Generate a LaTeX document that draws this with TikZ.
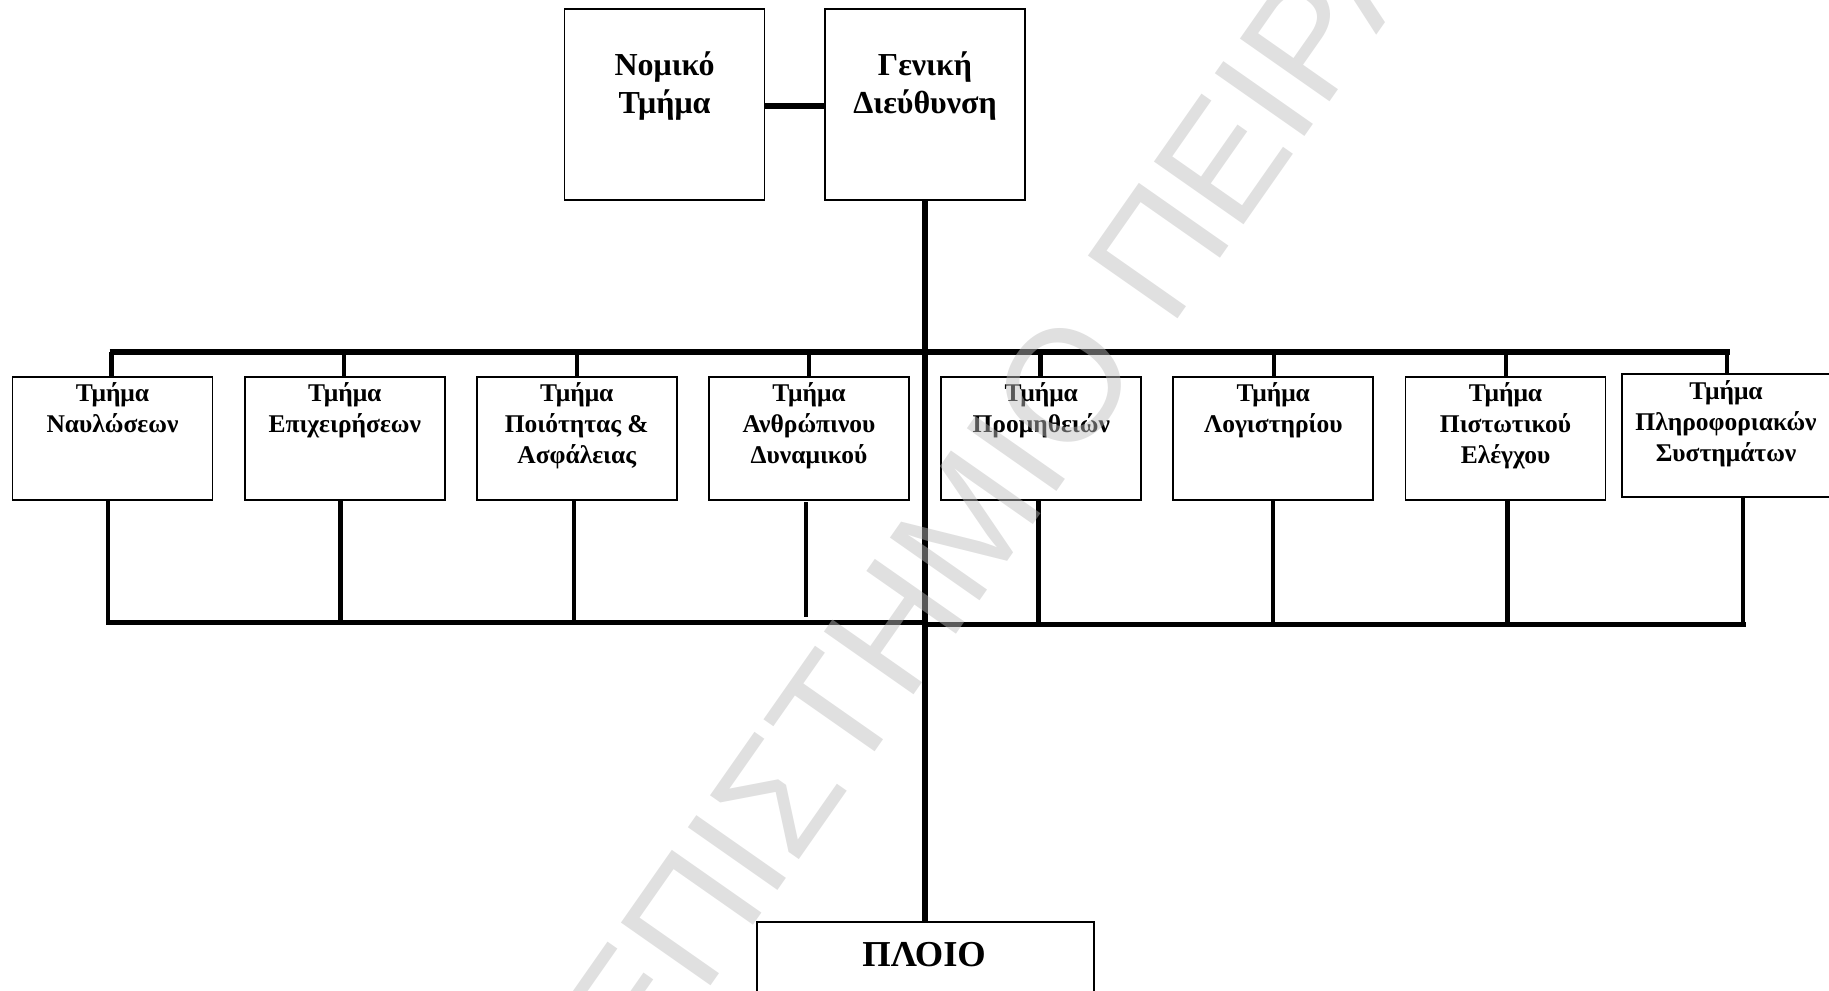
\documentclass[tikz,border=0pt]{standalone}
\usepackage{fontspec}
\setmainfont{Liberation Serif}
\newfontfamily\wmfont{Liberation Sans}
\usetikzlibrary{calc}
% stacked, centred lines whose baseline is the first line's
\newcommand{\boxlines}[1]{\begin{tabular}[t]{@{}c@{}}#1\end{tabular}}
\begin{document}
\begin{tikzpicture}[x=0.5pt,y=-0.5pt,
  box/.style={draw, line width=0.85pt, inner sep=0pt},
  headbox/.style={box, minimum width=100pt, minimum height=95.5pt},
  deptbox/.style={box, minimum width=100pt, minimum height=61.5pt},
  headtxt/.style={inner sep=0pt, font=\bfseries\fontsize{16pt}{19.25pt}\selectfont},
  depttxt/.style={inner sep=0pt, font=\bfseries\fontsize{12.75pt}{15.5pt}\selectfont},
  shiptxt/.style={inner sep=0pt, font=\bfseries\fontsize{18.25pt}{22pt}\selectfont},
  link/.style={line width=2.75pt},
  topbus/.style={line width=3.25pt},
  drop/.style={line width=2.2pt},
  lowbus/.style={line width=2.5pt},
  wm/.style={inner sep=0pt, text=black!26, text opacity=0.47,
    font=\wmfont\fontsize{79.5pt}{90pt}\selectfont},
]
\useasboundingbox (0,0) rectangle (1829,990);
\clip (0,0) rectangle (1829,990);

% management level
\node[headbox] (legal) at (664.5,104.5) {};
\node[headbox] (gm) at (925,104.5) {};
\node[headtxt, anchor=base] (legalt) at ($(legal.north)+(0,67)$) {\boxlines{Νομικό\\Τμήμα}};
\node[headtxt, anchor=base] (gmt) at ($(gm.north)+(0,67)$) {\boxlines{Γενική\\Διεύθυνση}};

% departments
\node[deptbox] (d1) at (112.5,438.5) {};
\node[deptbox] (d2) at (344.75,438.5) {};
\node[deptbox] (d3) at (576.75,438.5) {};
\node[deptbox] (d4) at (809,438.5) {};
\node[deptbox] (d5) at (1041.25,438.5) {};
\node[deptbox] (d6) at (1273.25,438.5) {};
\node[deptbox] (d7) at (1505.5,438.5) {};
\node[deptbox, minimum width=104pt] (d8) at (1726,435.25) {};

\node[depttxt, anchor=base] (d1t) at ($(d1.north)+(0,25)$) {\boxlines{Τμήμα\\Ναυλώσεων}};
\node[depttxt, anchor=base] (d2t) at ($(d2.north)+(0,25)$) {\boxlines{Τμήμα\\Επιχειρήσεων}};
\node[depttxt, anchor=base] (d3t) at ($(d3.north)+(0,25)$) {\boxlines{Τμήμα\\Ποιότητας \&\\Ασφάλειας}};
\node[depttxt, anchor=base] (d4t) at ($(d4.north)+(0,25)$) {\boxlines{Τμήμα\\Ανθρώπινου\\Δυναμικού}};
\node[depttxt, anchor=base] (d5t) at ($(d5.north)+(0,25)$) {\boxlines{Τμήμα\\Προμηθειών}};
\node[depttxt, anchor=base] (d6t) at ($(d6.north)+(0,25)$) {\boxlines{Τμήμα\\Λογιστηρίου}};
\node[depttxt, anchor=base] (d7t) at ($(d7.north)+(0,25)$) {\boxlines{Τμήμα\\Πιστωτικού\\Ελέγχου}};
\node[depttxt, anchor=base] (d8t) at ($(d8.north)+(0,27)$) {\boxlines{Τμήμα\\Πληροφοριακών\\Συστημάτων}};

% ship
\node[box, minimum width=168.35pt, minimum height=59pt] (ship) at (925.6,981) {};
\node[shiptxt, anchor=base] (shipt) at ($(ship.north)+(-1.5,45.6)$) {ΠΛΟΙΟ};

% bus end points
\coordinate (busTL) at (109.5,352);
\coordinate (busTR) at (1730,352);
\coordinate (busBL) at (106,622.5);
\coordinate (busBM) at (925,622.5);
\coordinate (busBN) at (925,624.2);
\coordinate (busBR) at (1746,624.2);

% connectors
\draw[link] (legal.east) ++(0,-0.75pt) -- (gm.west |- 0,106);
\draw[link] (gm.south) -- (gm.south |- ship.north);
\draw[topbus] (busTL) -- (busTR);
\foreach \d/\s in {d1/-0.45pt,d2/-0.45pt,d3/0pt,d4/0pt,d5/-0.35pt,d6/0.35pt,d7/0.25pt,d8/0.5pt}
  \draw[drop] ([xshift=\s]\d.north) -- ([xshift=\s]\d.north |- busTL);

\draw[lowbus] (busBL) -- (busBM);
\draw[lowbus] (busBN) -- (busBR);
\foreach \d/\s in {d1/-2.25pt,d2/-2.05pt,d3/-1.4pt}
  \draw[drop] ([xshift=\s]\d.south) -- ([xshift=\s]\d.south |- busBL);
\draw[drop] ([xshift=-1.5pt]d4.south) ++(0,-0.8pt) -- ++(0,-57.2pt);
\foreach \d/\s in {d5/-1.4pt,d6/0pt,d7/1.05pt,d8/8.5pt}
  \draw[drop] ([xshift=\s]\d.south) -- ([xshift=\s]\d.south |- busBR);

% watermark
\node[wm, rotate=55, anchor=base west] (mark) at (1170,330) {\llap{ΠΑΝΕΠΙΣΤΗΜΙΟ }ΠΕΙΡΑΙΩΣ};
\end{tikzpicture}
\end{document}
